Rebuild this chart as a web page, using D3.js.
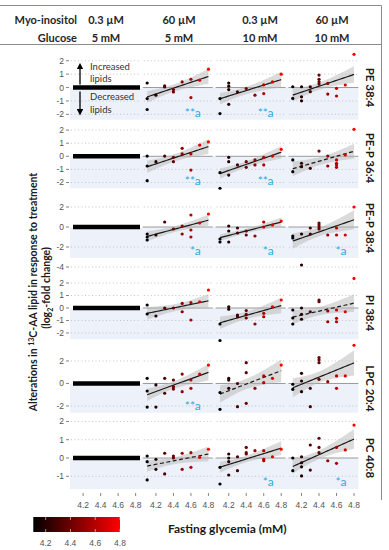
<!DOCTYPE html>
<html>
<head>
<meta charset="utf-8">
<script src="https://cdn.jsdelivr.net/npm/d3@7"></script>
<style>
  body { margin: 0; background: #fff; }
  text { font-family: Lato, "Open Sans", sans-serif; }
  .tick-label { font-family: "Liberation Sans", Arial, sans-serif; font-size: 8.5px; fill: #555; }
</style>
</head>
<body>
<svg width="389" height="550"></svg>
<script>
// ---- data ----
var lipids = ["PE 38:4", "PE-P 36:4", "PE-P 38:4", "PI 38:4", "LPC 20:4", "PC 40:8"];
var myoInositol = ["0.3 µM", "60 µM", "0.3 µM", "60 µM"];
var glucose = ["5 mM", "5 mM", "10 mM", "10 mM"];
var glycemiaTicks = [4.2, 4.4, 4.6, 4.8];
var changeTicks = [[-2, -1, 0, 1, 2], [-2, -1, 0, 1, 2], [-4, -2, 0, 2], [-2, -1, 0, 1, 2], [-2, 0, 2], [-1, 0, 1, 2]];
var changeDomains = [[-2.4, 2.6], [-2.5, 2.5], [-4.3, 2.4], [-2.65, 2.65], [-2.5, 3.5], [-1.7, 2.1]];
var bandFloor = [-2.4, -2.45, -3.1, -2.5, -2.6, -1.7];
var dashedFit = [[0, 0, 0], [0, 0, 1], [0, 0, 0], [0, 0, 1], [0, 1, 0], [1, 0, 0]];
var significance = [["**a", "**a", ""], ["**a", "**a", ""], ["*a", "*a", "*a"], ["", "", ""], ["**a", "", ""], ["", "*a", "*a"]];

// [fasting glycemia (mM), log2-fold change] per treated column
var pe384 = [
  [[4.1,0.34],[4.1,-0.82],[4.1,-1.64],[4.2,-0.57],[4.3,0.04],[4.3,0.12],[4.4,-0.15],[4.4,-0.33],[4.5,0.42],[4.6,-0.75],[4.6,0.62],[4.7,0.55],[4.8,1.37]],
  [[4.1,-0.82],[4.1,-1.94],[4.2,0.34],[4.2,0.1],[4.2,-0.15],[4.2,-1.25],[4.3,-0.33],[4.4,-0.07],[4.5,-0.57],[4.6,-0.45],[4.6,0.2],[4.7,0.42],[4.8,1.0]],
  [[4.1,0.06],[4.1,-0.81],[4.2,0.06],[4.2,-0.69],[4.2,-0.99],[4.3,0.06],[4.3,-0.31],[4.4,0.43],[4.4,0.26],[4.4,0.93],[4.4,0.61],[4.5,-0.49],[4.5,0.31],[4.6,-0.06],[4.6,-0.63],[4.7,0.19],[4.8,2.48]]
];
var pep364 = [
  [[4.1,0.02],[4.1,-0.74],[4.1,-1.86],[4.2,-0.41],[4.3,0.02],[4.4,-0.08],[4.4,-0.41],[4.5,0.18],[4.5,0.61],[4.6,0.18],[4.6,-1.05],[4.7,0.86],[4.8,1.1]],
  [[4.1,-1.25],[4.1,-2.44],[4.2,-0.08],[4.2,-0.41],[4.2,-1.43],[4.3,-0.66],[4.4,-0.41],[4.4,-0.84],[4.5,-0.28],[4.5,-0.66],[4.6,-0.08],[4.6,-0.66],[4.7,0.02],[4.8,0.53]],
  [[4.1,-0.28],[4.1,-1.17],[4.2,-0.53],[4.2,-0.79],[4.3,-0.92],[4.4,0.4],[4.5,0.02],[4.5,-0.74],[4.6,-0.28],[4.6,-0.66],[4.6,-0.53],[4.6,-0.84],[4.7,0.1],[4.8,2.06]]
];
var pep384 = [
  [[4.1,-0.7],[4.1,-1.0],[4.1,-1.3],[4.2,-0.8],[4.3,0.5],[4.4,-0.2],[4.5,0.1],[4.5,-0.7],[4.6,1.2],[4.6,-0.3],[4.6,-1.0],[4.7,0.4],[4.8,1.3]],
  [[4.1,-1.2],[4.1,-1.5],[4.2,0.1],[4.2,-0.4],[4.2,-1.5],[4.3,-0.1],[4.3,-0.6],[4.4,-0.4],[4.4,-0.8],[4.5,-0.9],[4.6,0.5],[4.6,0.0],[4.7,0.2],[4.8,0.6]],
  [[4.1,-0.9],[4.1,-1.1],[4.2,-0.7],[4.2,-3.8],[4.3,-0.1],[4.3,-0.7],[4.4,0.4],[4.4,0.2],[4.4,0.0],[4.4,-0.2],[4.5,-0.8],[4.6,-0.1],[4.6,-0.8],[4.7,-0.8],[4.8,2.0]]
];
var pi384 = [
  [[4.1,0.24],[4.1,-0.48],[4.2,-0.64],[4.3,0.0],[4.4,0.0],[4.5,0.37],[4.5,-0.3],[4.6,0.43],[4.6,-0.96],[4.7,0.5],[4.8,1.44]],
  [[4.1,-1.28],[4.1,-2.6],[4.2,0.1],[4.2,-0.1],[4.3,-0.56],[4.3,-0.7],[4.4,-0.2],[4.4,-0.5],[4.4,-0.8],[4.5,-1.28],[4.6,-0.43],[4.6,-0.7],[4.7,0.1],[4.8,0.64]],
  [[4.1,-0.16],[4.1,-0.8],[4.1,-1.28],[4.2,0.0],[4.2,-0.5],[4.2,-0.9],[4.3,-0.3],[4.4,0.64],[4.4,0.5],[4.5,-0.24],[4.5,-1.1],[4.6,-0.16],[4.6,-0.83],[4.6,-1.1],[4.7,-0.3],[4.8,2.37]]
];
var lpc204 = [
  [[4.1,0.46],[4.1,-0.67],[4.1,-2.1],[4.2,-0.13],[4.2,-2.1],[4.3,0.46],[4.3,-0.87],[4.4,0.31],[4.4,-0.28],[4.4,-0.5],[4.5,0.84],[4.5,-0.73],[4.6,0.31],[4.6,-0.43],[4.7,0.84],[4.8,1.64]],
  [[4.1,-0.8],[4.1,-2.3],[4.2,0.46],[4.2,0.3],[4.2,-0.43],[4.3,0.0],[4.3,-2.06],[4.4,1.85],[4.4,0.96],[4.4,-1.76],[4.5,-0.43],[4.6,0.67],[4.6,0.07],[4.7,0.46],[4.8,1.64]],
  [[4.1,-0.07],[4.1,-0.52],[4.2,0.9],[4.2,0.22],[4.2,-0.73],[4.3,-0.43],[4.3,-2.06],[4.4,2.3],[4.4,2.1],[4.4,1.85],[4.4,0.37],[4.5,0.16],[4.6,0.67],[4.6,-0.43],[4.7,0.67],[4.8,3.4]]
];
var pc408 = [
  [[4.1,0.11],[4.1,-0.2],[4.1,-1.2],[4.2,-0.07],[4.2,-0.62],[4.3,0.26],[4.3,-0.87],[4.4,0.11],[4.4,0.0],[4.5,0.26],[4.5,-0.62],[4.6,0.29],[4.6,-0.51],[4.7,0.04],[4.8,0.48]],
  [[4.1,-0.51],[4.1,-1.42],[4.2,0.22],[4.2,0.0],[4.2,-0.2],[4.2,-0.93],[4.3,0.07],[4.3,-0.69],[4.4,0.58],[4.4,0.29],[4.4,0.22],[4.5,0.4],[4.6,0.4],[4.6,-0.07],[4.6,-0.15],[4.7,0.07],[4.8,0.48]],
  [[4.1,0.0],[4.1,-0.69],[4.2,0.07],[4.2,-0.26],[4.2,-0.48],[4.2,-0.98],[4.3,0.71],[4.3,-0.66],[4.4,1.08],[4.4,0.58],[4.4,0.29],[4.5,-0.15],[4.6,0.58],[4.6,-0.29],[4.7,0.44],[4.8,1.8]]
];
var panels = [pe384, pep364, pep384, pi384, lpc204, pc408];

// ---- layout ----
var colLeft = [70, 142.8, 215.6, 288.4], colW = 70;
var rowPx = [[119.7, 52.7], [189.05, 123.55], [270, 203], [341.1, 274.9], [411.6, 344.1], [489.1, 419.6]];
var labelY = [87.5, 158, 228, 313, 388.5, 458];

var svg = d3.select("svg");

var color = d3.scaleLinear().domain([4.1, 4.8]).range(["#000000", "#ff0000"]).clamp(true);
var xScales = colLeft.map(function(l) { return d3.scaleLinear().domain([4.05, 4.85]).range([l, l + colW]); });

// frame around header
svg.append("path")
    .attr("d", "M0,5.5H381.5V500 M0,44.5H381.5")
    .attr("fill", "none").attr("stroke", "#8c8c8c").attr("stroke-width", 1);

// header
svg.append("text").attr("x", 77).attr("y", 23.5).attr("text-anchor", "end")
    .attr("font-weight", "bold").attr("font-size", "11px").attr("fill", "#262626").text("Myo-inositol");
svg.append("text").attr("x", 77).attr("y", 41.5).attr("text-anchor", "end")
    .attr("font-weight", "bold").attr("font-size", "11px").attr("fill", "#262626").text("Glucose");
var headX = [106, 179, 260, 332];
myoInositol.forEach(function(t, i) {
  svg.append("text").attr("x", headX[i]).attr("y", 23.5).attr("text-anchor", "middle")
      .attr("font-weight", "bold").attr("font-size", "11px").attr("fill", "#262626").text(t);
  svg.append("text").attr("x", headX[i]).attr("y", 41.5).attr("text-anchor", "middle")
      .attr("font-weight", "bold").attr("font-size", "11px").attr("fill", "#262626").text(glucose[i]);
});

// fitted line + confidence band from the points
function fit(pts, x0, x1) {
  var n = pts.length,
      mx = d3.mean(pts, function(d) { return d[0]; }),
      my = d3.mean(pts, function(d) { return d[1]; });
  var sxx = d3.sum(pts, function(d) { return (d[0] - mx) * (d[0] - mx); });
  var sxy = d3.sum(pts, function(d) { return (d[0] - mx) * (d[1] - my); });
  var b = sxy / sxx, a = my - b * mx;
  var s = Math.sqrt(d3.sum(pts, function(d) { var r = d[1] - a - b * d[0]; return r * r; }) / (n - 2));
  var t = 1.6;
  return d3.range(0, 31).map(function(i) {
    var x = x0 + (x1 - x0) * i / 30, yh = a + b * x;
    var se = s * Math.sqrt(1 / n + (x - mx) * (x - mx) / sxx);
    return {x: x, y: yh, lo: yh - t * se, hi: yh + t * se};
  });
}

var defs = svg.append("defs");

lipids.forEach(function(lipid, r) {
  var y = d3.scaleLinear().domain(changeDomains[r]).range(rowPx[r]);
  var g = svg.append("g").attr("class", "row");

  // shaded "decreased" band
  g.append("rect")
      .attr("x", colLeft[0]).attr("width", colLeft[3] + colW - colLeft[0])
      .attr("y", y(0)).attr("height", y(bandFloor[r]) - y(0))
      .attr("fill", "#edf1f9");

  // y axis ticks
  changeTicks[r].forEach(function(v) {
    g.append("text").attr("class", "tick-label")
        .attr("x", 64).attr("y", y(v)).attr("dy", "0.35em").attr("text-anchor", "end").text(v);
    g.append("line").attr("x1", 66).attr("x2", 69).attr("y1", y(v)).attr("y2", y(v))
        .attr("stroke", "#666").attr("stroke-width", 0.8);
  });

  // gridlines per column
  colLeft.forEach(function(l, c) {
    changeTicks[r].forEach(function(v) {
      if (v === 0) return;
      g.append("line").attr("x1", l + 1).attr("x2", l + colW - 1).attr("y1", y(v)).attr("y2", y(v))
          .attr("stroke", "#bdbdbd").attr("stroke-width", 0.9).attr("stroke-dasharray", "1,2.5");
    });
  });

  // control column: thick bar at 0
  g.append("line").attr("x1", colLeft[0] + 3).attr("x2", colLeft[0] + colW)
      .attr("y1", y(0)).attr("y2", y(0)).attr("stroke", "#000").attr("stroke-width", 4.5);

  // treated columns
  panels[r].forEach(function(pts, k) {
    var c = k + 1, x = xScales[c];
    var clipId = "clip" + r + "_" + c;
    defs.append("clipPath").attr("id", clipId).append("rect")
        .attr("x", colLeft[c]).attr("width", colW).attr("y", rowPx[r][1]).attr("height", rowPx[r][0] - rowPx[r][1]);

    g.append("line").attr("x1", colLeft[c]).attr("x2", colLeft[c] + colW)
        .attr("y1", y(0)).attr("y2", y(0)).attr("stroke", "#9a9a9a").attr("stroke-width", 1);

    var est = fit(pts, d3.min(pts, function(d) { return d[0]; }), d3.max(pts, function(d) { return d[0]; }));
    g.append("path").datum(est)
        .attr("clip-path", "url(#" + clipId + ")")
        .attr("d", d3.area().x(function(d) { return x(d.x); })
            .y0(function(d) { return y(d.lo); }).y1(function(d) { return y(d.hi); }))
        .attr("fill", "#b8b8b8").attr("fill-opacity", 0.5);
    g.append("path").datum(est)
        .attr("d", d3.line().x(function(d) { return x(d.x); }).y(function(d) { return y(d.y); }))
        .attr("fill", "none").attr("stroke", "#1a1a1a").attr("stroke-width", 1.2)
        .attr("stroke-dasharray", dashedFit[r][k] ? "4,2.5" : null);

    g.selectAll(".dot" + c).data(pts).enter().append("circle")
        .attr("cx", function(d) { return x(d[0]); })
        .attr("cy", function(d) { return y(d[1]); })
        .attr("r", 1.6)
        .attr("fill", function(d) { return color(d[0]); });

    if (significance[r][k]) {
      g.append("text").attr("x", colLeft[c] + colW - 12).attr("y", y(bandFloor[r]) - 3)
          .attr("text-anchor", "end").attr("font-family", "'Liberation Sans', Arial, sans-serif")
          .attr("font-size", "12px").attr("fill", "#29abe2").text(significance[r][k]);
    }
  });

  // lipid label on the right
  g.append("text")
      .attr("transform", "translate(366," + labelY[r] + ") rotate(90)")
      .attr("text-anchor", "middle").attr("font-weight", "bold").attr("font-size", "11.5px")
      .attr("fill", "#1a1a1a").text(lipid);
});

// Increased / decreased lipids legend in the first panel
var y0 = d3.scaleLinear().domain(changeDomains[0]).range(rowPx[0]);
defs.append("marker").attr("id", "head").attr("viewBox", "0 0 10 10").attr("refX", 5).attr("refY", 5)
    .attr("markerWidth", 5).attr("markerHeight", 5).attr("orient", "auto-start-reverse")
    .append("path").attr("d", "M0,0L10,5L0,10z").attr("fill", "#000");
svg.append("line").attr("x1", 80).attr("x2", 80).attr("y1", y0(0) - 3).attr("y2", y0(1.6))
    .attr("stroke", "#000").attr("stroke-width", 1.3).attr("marker-end", "url(#head)");
svg.append("line").attr("x1", 80).attr("x2", 80).attr("y1", y0(0) + 4).attr("y2", y0(-1.85))
    .attr("stroke", "#000").attr("stroke-width", 1.3).attr("marker-end", "url(#head)");
[["Increased", 69.5], ["lipids", 82], ["Decreased", 100], ["lipids", 112.5]].forEach(function(d) {
  svg.append("text").attr("x", 90).attr("y", d[1]).attr("font-size", "9.5px").attr("fill", "#333").text(d[0]);
});

// bottom x axes
xScales.forEach(function(x) {
  glycemiaTicks.forEach(function(v) {
    svg.append("line").attr("x1", x(v)).attr("x2", x(v)).attr("y1", 493).attr("y2", 496)
        .attr("stroke", "#666").attr("stroke-width", 0.8);
    svg.append("text").attr("class", "tick-label").attr("x", x(v)).attr("y", 507.5)
        .attr("text-anchor", "middle").text(v.toFixed(1));
  });
});

// y axis title
var yt = svg.append("text").attr("transform", "translate(37,292) rotate(-90)")
    .attr("text-anchor", "middle").attr("font-weight", "bold").attr("font-size", "10.5px").attr("fill", "#1a1a1a");
yt.append("tspan").text("Alterations in ");
yt.append("tspan").attr("dy", -3.5).attr("font-size", "7px").text("13");
yt.append("tspan").attr("dy", 3.5).text("C-AA lipid in response to treatment");
var yt2 = svg.append("text").attr("transform", "translate(50,288) rotate(-90)")
    .attr("text-anchor", "middle").attr("font-weight", "bold").attr("font-size", "10.5px").attr("fill", "#1a1a1a");
yt2.append("tspan").text("(log");
yt2.append("tspan").attr("dy", 2.5).attr("font-size", "7px").text("2");
yt2.append("tspan").attr("dy", -2.5).text("-fold change)");

// colour bar
var cb = d3.scaleLinear().domain([4.1, 4.8]).range([33.3, 120]);
var grad = defs.append("linearGradient").attr("id", "cbar");
grad.append("stop").attr("offset", "0%").attr("stop-color", color(4.1));
grad.append("stop").attr("offset", "100%").attr("stop-color", color(4.8));
svg.append("rect").attr("x", cb(4.1)).attr("y", 517).attr("width", cb(4.8) - cb(4.1)).attr("height", 15)
    .attr("fill", "url(#cbar)");
glycemiaTicks.forEach(function(v) {
  svg.append("line").attr("x1", cb(v)).attr("x2", cb(v)).attr("y1", 517).attr("y2", 520)
      .attr("stroke", "#fff").attr("stroke-width", 0.7).attr("stroke-opacity", 0.8);
  svg.append("line").attr("x1", cb(v)).attr("x2", cb(v)).attr("y1", 529).attr("y2", 532)
      .attr("stroke", "#fff").attr("stroke-width", 0.7).attr("stroke-opacity", 0.8);
  svg.append("text").attr("class", "tick-label").attr("x", cb(v)).attr("y", 545.5)
      .attr("text-anchor", "middle").text(v.toFixed(1));
});
svg.append("text").attr("x", 168).attr("y", 533).attr("font-weight", "bold").attr("font-size", "12px")
    .attr("fill", "#1a1a1a").text("Fasting glycemia (mM)");
</script>
</body>
</html>
